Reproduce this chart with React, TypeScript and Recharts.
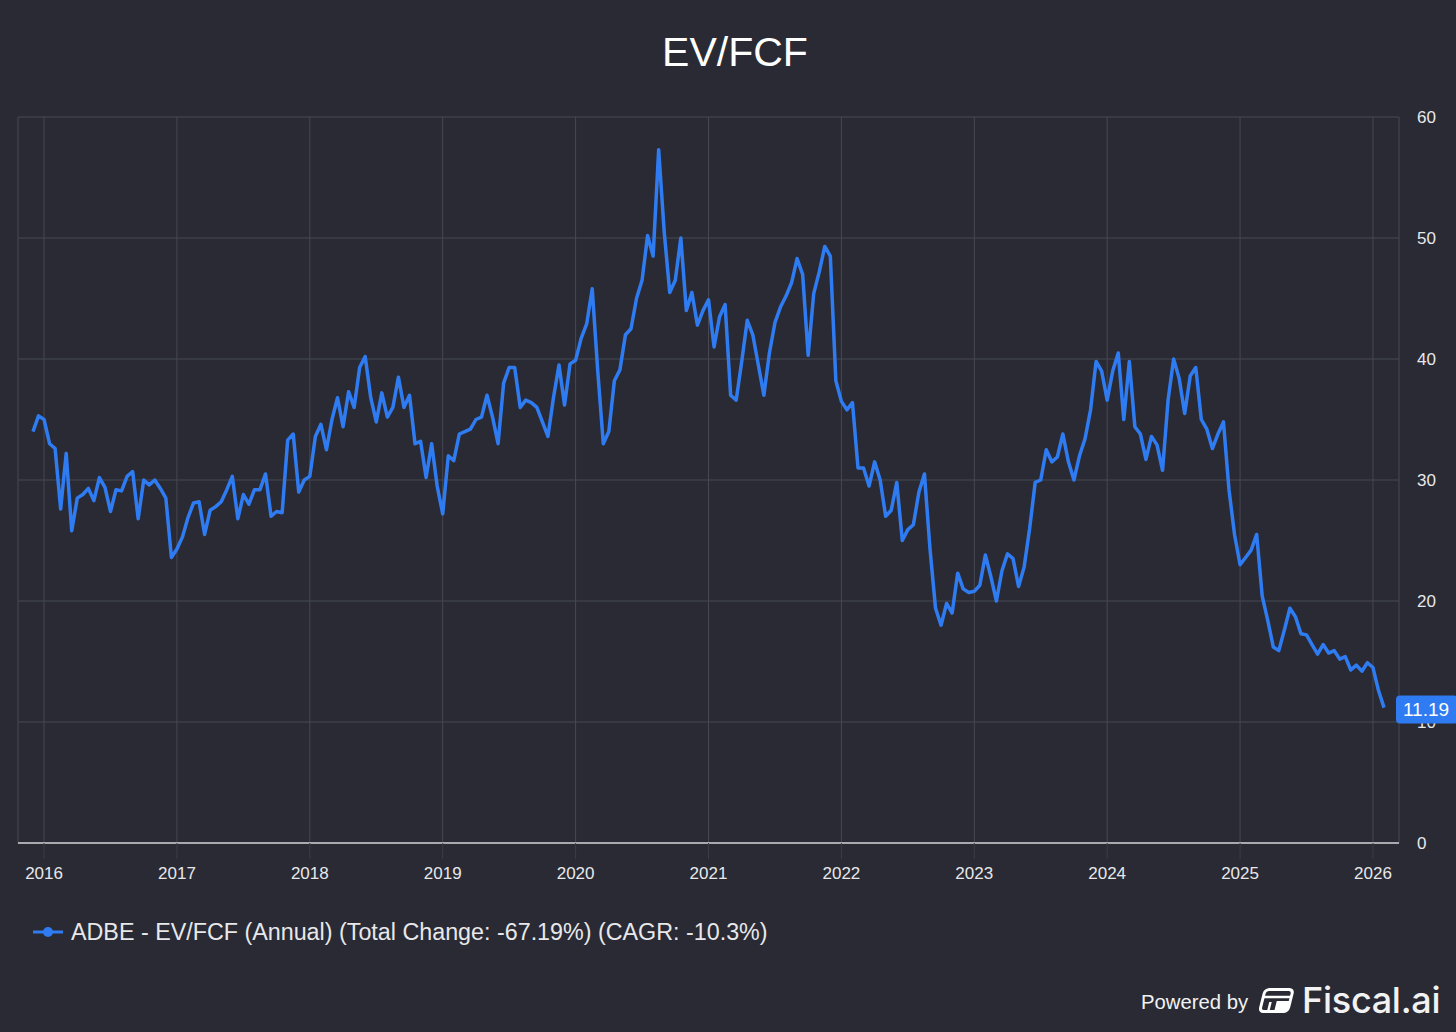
import React from 'react';
import { LineChart, Line, XAxis, YAxis, CartesianGrid } from 'recharts';

// ADBE EV/FCF, two readings per month (slot = half-month index within the year)
const ev2015 = [34.0, 35.3];
const ev2016 = [35.0, 33.0, 32.6, 27.6, 32.2, 25.8, 28.5, 28.8, 29.3, 28.3, 30.2, 29.4, 27.4, 29.2, 29.1, 30.3, 30.7, 26.8, 30.0, 29.6, 30.0, 29.3, 28.5, 23.6];
const ev2017 = [24.3, 25.3, 26.9, 28.1, 28.2, 25.5, 27.5, 27.8, 28.2, 29.2, 30.3, 26.8, 28.8, 28.0, 29.2, 29.2, 30.5, 27.0, 27.4, 27.3, 33.3, 33.8, 29.0, 30.0];
const ev2018 = [30.3, 33.6, 34.6, 32.5, 35.0, 36.8, 34.4, 37.3, 36.0, 39.3, 40.2, 36.8, 34.8, 37.2, 35.2, 36.0, 38.5, 36.0, 37.0, 33.0, 33.2, 30.2, 33.0, 29.5];
const ev2019 = [27.2, 32.0, 31.6, 33.8, 34.0, 34.2, 35.0, 35.2, 37.0, 35.2, 33.0, 38.0, 39.3, 39.3, 36.0, 36.6, 36.4, 36.0, 34.8, 33.6, 36.8, 39.5, 36.2, 39.6];
const ev2020 = [39.9, 41.7, 42.9, 45.8, 39.0, 33.0, 34.0, 38.2, 39.1, 42.0, 42.5, 45.0, 46.5, 50.2, 48.5, 57.3, 50.5, 45.5, 46.5, 50.0, 44.0, 45.5, 42.8, 44.0];
const ev2021 = [44.9, 41.0, 43.5, 44.5, 37.0, 36.6, 39.8, 43.2, 42.0, 39.5, 37.0, 40.5, 43.0, 44.3, 45.2, 46.3, 48.3, 47.0, 40.3, 45.4, 47.2, 49.3, 48.5, 38.2];
const ev2022 = [36.5, 35.8, 36.4, 31.0, 31.0, 29.5, 31.5, 30.0, 27.0, 27.5, 29.8, 25.0, 25.9, 26.3, 29.0, 30.5, 24.3, 19.4, 18.0, 19.8, 19.0, 22.3, 21.0, 20.7];
const ev2023 = [20.8, 21.3, 23.8, 22.0, 20.0, 22.5, 23.9, 23.5, 21.2, 22.8, 26.0, 29.8, 30.0, 32.5, 31.5, 31.9, 33.8, 31.5, 30.0, 32.0, 33.4, 35.8, 39.8, 39.0];
const ev2024 = [36.6, 39.0, 40.5, 35.0, 39.8, 34.4, 33.8, 31.7, 33.6, 32.9, 30.8, 36.6, 40.0, 38.4, 35.5, 38.6, 39.3, 35.0, 34.2, 32.6, 33.8, 34.8, 29.2, 25.5];
const ev2025 = [23.0, 23.6, 24.2, 25.5, 20.4, 18.4, 16.2, 15.9, 17.6, 19.4, 18.7, 17.3, 17.2, 16.4, 15.6, 16.4, 15.7, 15.9, 15.2, 15.4, 14.3, 14.7, 14.2, 14.9];
const ev2026 = [14.5, 12.6, 11.19];

const yearTicks = [2016, 2017, 2018, 2019, 2020, 2021, 2022, 2023, 2024, 2025, 2026];
const valueTicks = [0, 10, 20, 30, 40, 50, 60];

// [year, first half-month slot, readings]
const series: [number, number, number[]][] = [
  [2015, 22, ev2015],
  [2016, 0, ev2016],
  [2017, 0, ev2017],
  [2018, 0, ev2018],
  [2019, 0, ev2019],
  [2020, 0, ev2020],
  [2021, 0, ev2021],
  [2022, 0, ev2022],
  [2023, 0, ev2023],
  [2024, 0, ev2024],
  [2025, 0, ev2025],
  [2026, 0, ev2026],
];

const data = series.flatMap(([year, first, values]) =>
  values.map((ev, i) => ({ date: year + (first + i) / 24, ev }))
);
const lastIndex = data.length - 1;

const BG = '#292a34';
const BLUE = '#2f7cf2';
const TEXT = '#e8e8ea';
const FONT = '"Liberation Sans", Arial, sans-serif';

// blue value badge sitting on the right axis at the latest reading
const renderBadge = (props: any) => {
  const { index, y, value } = props;
  if (index !== lastIndex) return <g key={`b-${index}`} />;
  return (
    <g key="badge">
      <rect x={1396} y={y - 12} width={62} height={28} rx={4} fill={BLUE} />
      <text x={1426} y={y + 8.5} textAnchor="middle" fill="#fff" fontSize={19} fontFamily={FONT}>
        {value.toFixed(2)}
      </text>
    </g>
  );
};

export default function App() {
  return (
    <div style={{ position: 'relative', width: 1456, height: 1032, background: BG, fontFamily: FONT }}>
      <style>{'body{margin:0;background:' + BG + ';}'}</style>
      <div
        style={{
          position: 'absolute',
          top: 32,
          left: 735,
          transform: 'translateX(-50%)',
          fontSize: 41,
          lineHeight: '41px',
          color: '#ffffff',
          whiteSpace: 'nowrap',
        }}
      >
        EV/FCF
      </div>

      <LineChart
        width={1456}
        height={1032}
        data={data}
        margin={{ top: 117, right: 0, left: 18, bottom: 149 }}
        style={{ position: 'absolute', top: 0, left: 0 }}
      >
        <CartesianGrid stroke="#474852" strokeWidth={1} />
        <XAxis
          dataKey="date"
          type="number"
          domain={[2015.804, 2026.196]}
          ticks={yearTicks}
          allowDataOverflow
          height={40}
          axisLine={{ stroke: '#a9a9b0', strokeWidth: 2 }}
          tickLine={{ stroke: '#3c3d47' }}
          tickSize={16}
          tickMargin={8}
          tick={{ fill: TEXT, fontSize: 17, fontFamily: FONT }}
          tickFormatter={(v: number) => String(v)}
        />
        <YAxis
          orientation="right"
          domain={[0, 60]}
          ticks={valueTicks}
          width={57}
          axisLine={false}
          tickLine={false}
          tickSize={6}
          tickMargin={12}
          tick={{ fill: TEXT, fontSize: 17, fontFamily: FONT, textAnchor: 'start' }}
        />
        <Line
          dataKey="ev"
          type="linear"
          stroke={BLUE}
          strokeWidth={3.5}
          strokeLinejoin="round"
          dot={false}
          activeDot={false}
          isAnimationActive={false}
          label={renderBadge}
        />
      </LineChart>

      {/* legend */}
      <div style={{ position: 'absolute', top: 918, left: 32, display: 'flex', alignItems: 'center' }}>
        <svg width={32} height={28}>
          <line x1={1} y1={14} x2={31} y2={14} stroke={BLUE} strokeWidth={3} />
          <circle cx={16} cy={14} r={5} fill={BLUE} />
        </svg>
        <span style={{ marginLeft: 7, fontSize: 23.3, color: TEXT, whiteSpace: 'nowrap' }}>
          ADBE - EV/FCF (Annual) (Total Change: -67.19%) (CAGR: -10.3%)
        </span>
      </div>

      {/* footer */}
      <div style={{ position: 'absolute', top: 978, left: 1141, display: 'flex', alignItems: 'center', color: '#f2f2f2' }}>
        <span style={{ fontSize: 20.3, whiteSpace: 'nowrap', marginTop: 4 }}>Powered by</span>
        <svg width={38} height={28} style={{ marginLeft: 9 }}>
          <g transform="translate(7,2) skewX(-14)">
            <rect x={1.5} y={1.5} width={28} height={22} rx={4} fill="none" stroke="#fff" strokeWidth={3} />
            <line x1={1.5} y1={9} x2={29.5} y2={9} stroke="#fff" strokeWidth={2.5} />
            <line x1={10} y1={14} x2={10} y2={23} stroke="#fff" strokeWidth={2.5} />
            <rect x={16} y={13} width={13} height={10} fill="#fff" />
          </g>
        </svg>
        <span style={{ marginLeft: 7, fontSize: 36, fontFamily: 'Inter, "Noto Sans", sans-serif', fontWeight: 500, whiteSpace: 'nowrap', letterSpacing: -0.3 }}>
          Fiscal.ai
        </span>
      </div>
    </div>
  );
}
